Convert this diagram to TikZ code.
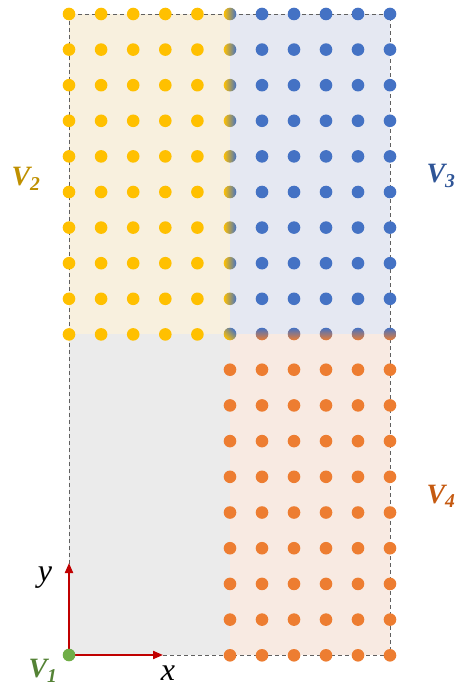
\documentclass[tikz,border=0pt]{standalone}
\usepackage{fontspec}
\setmainfont{Liberation Serif}
\usetikzlibrary{arrows.meta}
\definecolor{dotyellow}{HTML}{FFC000}
\definecolor{dotblue}{HTML}{4472C4}
\definecolor{dotorange}{HTML}{ED7D31}
\definecolor{dotgreen}{HTML}{70AD47}
\definecolor{labyellow}{HTML}{BF9000}
\definecolor{labblue}{HTML}{2F5597}
\definecolor{laborange}{HTML}{C55A11}
\definecolor{labgreen}{HTML}{548235}
\definecolor{fillyellow}{HTML}{F8F0DE}
\definecolor{fillblue}{HTML}{E5E8F2}
\definecolor{fillorange}{HTML}{F8EAE2}
\definecolor{fillgrey}{HTML}{EBEBEB}
\definecolor{axisred}{HTML}{C00000}

\begin{document}
\begin{tikzpicture}[
    x=1pt, y=-1pt,
    every node/.style={font=\fontsize{28}{28}\selectfont\bfseries\itshape},
    axislabel/.style={font=\fontsize{32}{32}\selectfont\itshape},
    frame/.style={gray!75!black, dash pattern=on 4pt off 3pt, line width=0.8pt},
    axis/.style={draw=axisred, line width=2pt, -{Triangle[length=10pt,width=8pt]}},
]
\useasboundingbox (0,0) rectangle (456,692);

% Regions
\fill[fillyellow] (69,14) rectangle (230,334);
\fill[fillblue] (230,14) rectangle (390,334);
\fill[fillorange] (230,334) rectangle (390,655);
\fill[fillgrey] (69,334) rectangle (230,655);
\draw[frame] (69,14) rectangle (390,655);

% Yellow points
\foreach \i in {0,...,4} {
    \foreach \j in {0,...,9} {
        \fill[dotyellow] (69+32.1*\i,14+35.6*\j) circle[radius=6.3pt];
    }
}
% Blue points
\foreach \i in {1,...,5} {
    \foreach \j in {0,...,8} {
        \fill[dotblue] (230+32*\i,14+35.6*\j) circle[radius=6.3pt];
    }
}
% Shared column V2/V3
\foreach \j in {0,...,8} {
    \shade[left color=dotyellow, right color=dotblue] (230,14+35.6*\j) circle[radius=6.3pt];
}
% Shared row V3/V4
\foreach \i in {1,...,5} {
    \shade[top color=dotblue, bottom color=dotorange] (230+32*\i,334) circle[radius=6.3pt];
}
\shade[left color=dotyellow, middle color=dotorange, right color=dotblue, shading angle=135] (230,334) circle[radius=6.3pt];
% Orange points
\foreach \i in {0,...,5} {
    \foreach \j in {1,...,9} {
        \fill[dotorange] (230+32*\i,334+35.7*\j) circle[radius=6.3pt];
    }
}

% Axes
\coordinate (o) at (69,655);
\coordinate (xtip) at (163,655);
\coordinate (ytip) at (69,563);
\draw[axis] (o) -- (xtip);
\draw[axis] (o) -- (ytip);
\node[circle, fill=dotgreen, inner sep=0pt, minimum size=12.6pt] (origin) at (o) {};

\node[axislabel] (xlab) at (168,673) {x};
\node[axislabel] (ylab) at (45,578) {y};

% Labels
\node[text=labgreen] (v1) at (43,671) {V\textsubscript{1}};
\node[text=labyellow] (v2) at (26,179) {V\textsubscript{2}};
\node[text=labblue] (v3) at (441,176) {V\textsubscript{3}};
\node[text=laborange] (v4) at (441,496) {V\textsubscript{4}};

\end{tikzpicture}
\end{document}
